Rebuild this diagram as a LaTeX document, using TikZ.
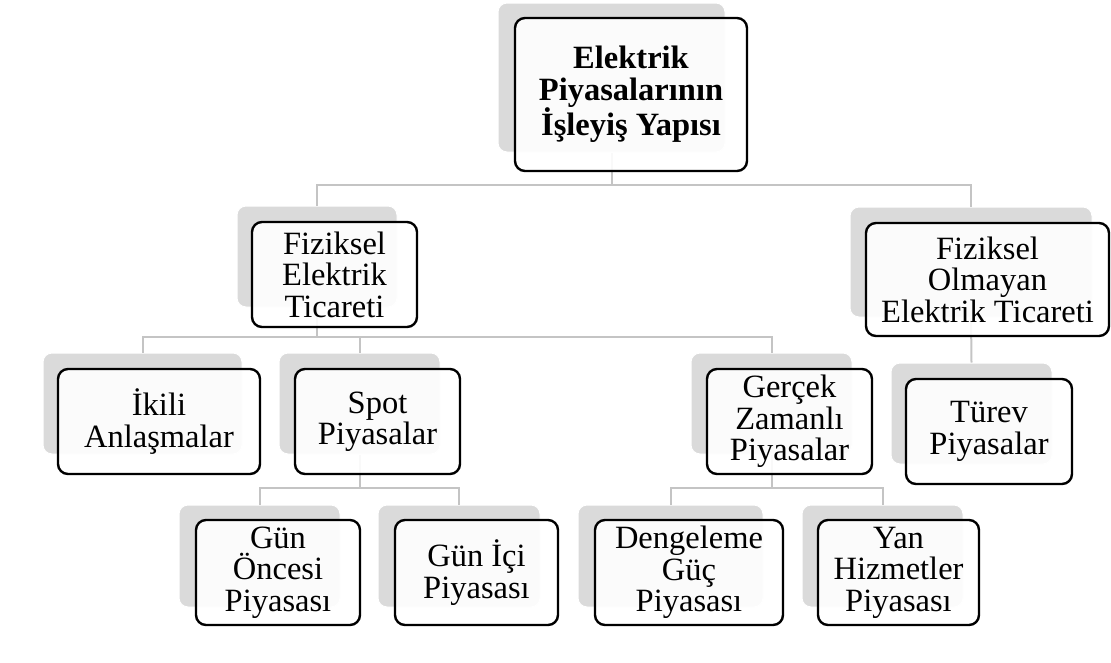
\documentclass[tikz,border=0pt]{standalone}
\usepackage{fontspec}
\setmainfont{Liberation Serif}
\definecolor{golgegri}{HTML}{DADADA}
\definecolor{hatgri}{HTML}{C4C4C4}
\tikzset{
  kutu/.style={draw=black, line width=2.4pt, fill=white, fill opacity=0.9, text opacity=1,
    rounded corners=10pt, inner sep=0pt, align=center, font=\fontsize{32.5}{31.5}\selectfont},
  golge/.style={fill=golgegri, draw=white, line width=1pt, rounded corners=9pt, inner sep=0pt},
  hat/.style={draw=hatgri, line width=2pt}
}
\begin{document}
\begin{tikzpicture}[x=1pt,y=-1pt]
  \useasboundingbox (0,0) rectangle (1111,662);

  % golgeler
  \node[golge, minimum width=227pt, minimum height=149pt] (ust-g) at (611.5,77.5) {};
  \node[golge, minimum width=160pt, minimum height=101pt] (fiz-g) at (317,256.5) {};
  \node[golge, minimum width=242pt, minimum height=110pt] (olm-g) at (971,262) {};
  \node[golge, minimum width=199pt, minimum height=101pt] (iki-g) at (142.5,403.5) {};
  \node[golge, minimum width=161pt, minimum height=101pt] (spot-g) at (359.5,403.5) {};
  \node[golge, minimum width=161pt, minimum height=101pt] (gercek-g) at (771.5,403.5) {};
  \node[golge, minimum width=161pt, minimum height=101pt] (turev-g) at (971.5,413.5) {};
  \node[golge, minimum width=161pt, minimum height=102pt] (gun-g) at (259.5,556) {};
  \node[golge, minimum width=162pt, minimum height=102pt] (ici-g) at (459,556) {};
  \node[golge, minimum width=185pt, minimum height=102pt] (deng-g) at (670.5,556) {};
  \node[golge, minimum width=161pt, minimum height=102pt] (yan-g) at (882.5,556) {};

  % baglantilar
  \coordinate (h1) at (0,185);
  \coordinate (h2) at (0,337);
  \coordinate (h3) at (0,488);
  \draw[hat] (ust-g.south) -- (ust-g.south |- h1) -| (fiz-g.north);
  \draw[hat] (ust-g.south |- h1) -| (olm-g.north);
  \draw[hat] (fiz-g.south) -- (fiz-g.south |- h2) -| (iki-g.north);
  \draw[hat] (fiz-g.south |- h2) -| (spot-g.north);
  \draw[hat] (fiz-g.south |- h2) -| (gercek-g.north);
  \draw[hat] (olm-g.south) -- (turev-g.north);
  \draw[hat] (spot-g.south) -- (spot-g.south |- h3) -| (gun-g.north);
  \draw[hat] (spot-g.south |- h3) -| (ici-g.north);
  \draw[hat] (gercek-g.south) -- (gercek-g.south |- h3) -| (deng-g.north);
  \draw[hat] (gercek-g.south |- h3) -| (yan-g.north);

  % kutular
  \node[kutu, font=\fontsize{32.5}{31.5}\selectfont\bfseries, minimum width=232pt, minimum height=153pt] (ust) at (631,94.5)
    {Elektrik\\Piyasalarının\\İşleyiş Yapısı};
  \node[kutu, minimum width=165pt, minimum height=105pt] (fiz) at (334.5,274.5) {Fiziksel\\Elektrik\\Ticareti};
  \node[kutu, minimum width=243pt, minimum height=113pt] (olm) at (987.5,279.5) {Fiziksel\\Olmayan\\Elektrik Ticareti};
  \node[kutu, minimum width=202pt, minimum height=105pt] (iki) at (159,421.5) {İkili\\Anlaşmalar};
  \node[kutu, minimum width=165pt, minimum height=105pt] (spot) at (377.5,421.5) {Spot\\Piyasalar};
  \node[kutu, minimum width=165pt, minimum height=105pt] (gercek) at (789.5,421.5) {Gerçek\\Zamanlı\\Piyasalar};
  \node[kutu, minimum width=166pt, minimum height=105pt] (turev) at (989,431.5) {Türev\\Piyasalar};
  \node[kutu, minimum width=164pt, minimum height=105pt] (gun) at (278,572.5) {Gün\\Öncesi\\Piyasası};
  \node[kutu, minimum width=163pt, minimum height=105pt] (ici) at (476.5,572.5) {Gün İçi\\Piyasası};
  \node[kutu, minimum width=188pt, minimum height=105pt] (deng) at (689,572.5) {Dengeleme\\Güç\\Piyasası};
  \node[kutu, minimum width=161pt, minimum height=105pt] (yan) at (898.5,572.5) {Yan\\Hizmetler\\Piyasası};
\end{tikzpicture}
\end{document}
